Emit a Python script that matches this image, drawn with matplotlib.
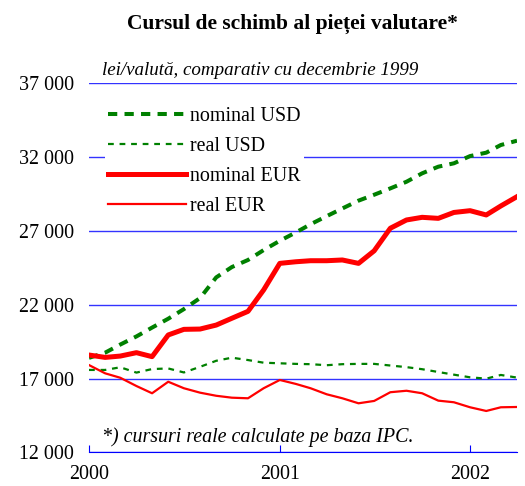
import numpy as np
import pandas as pd
import matplotlib
matplotlib.use('Agg')
import matplotlib.pyplot as plt

# Monthly data, Jan 2000 - Apr 2002 (lei per currency unit)
months = pd.date_range('2000-01-01', periods=28, freq='MS')

nominal_usd = [18400, 18750, 19300, 19850, 20450, 21050, 21700, 22450, 23850, 24550,
               25030, 25700, 26330, 26900, 27450, 28000, 28520, 29050, 29450, 29880,
               30330, 30900, 31350, 31580, 32070, 32300, 32820, 33110]
real_usd = [17580, 17580, 17760, 17400, 17640, 17680, 17410, 17790, 18200, 18410,
            18250, 18070, 18030, 17990, 17970, 17900, 17970, 17990, 17990, 17880,
            17770, 17630, 17440, 17260, 17080, 16990, 17240, 17060]
nominal_eur = [18590, 18430, 18520, 18750, 18480, 19950, 20330, 20350, 20620, 21080,
               21550, 23000, 24800, 24910, 24980, 24980, 25030, 24800, 25650, 27180,
               27740, 27920, 27850, 28250, 28370, 28080, 28690, 29320]
real_eur = [17910, 17350, 17050, 16490, 16000, 16780, 16340, 16040, 15830, 15700,
            15660, 16340, 16900, 16630, 16340, 15930, 15660, 15320, 15480, 16070,
            16170, 16000, 15500, 15390, 15050, 14800, 15050, 15070]

yticks = [12000, 17000, 22000, 27000, 32000, 37000]
ytick_labels = ['12 000', '17 000', '22 000', '27 000', '32 000', '37 000']
year_ticks = pd.to_datetime(['2000-01-01', '2001-01-01', '2002-01-01'])
year_labels = ['2000', '2001', '2002']

plt.rcParams['font.family'] = ['Liberation Serif', 'DejaVu Serif']
plt.rcParams['font.size'] = 14.4

W, H = 525, 486
fig = plt.figure(figsize=(W / 100, H / 100), dpi=100)
ax = fig.add_axes([89 / W, 1 - 452.3 / H, (517 - 89) / W, (452.3 - 83.3) / H])

ax.plot(months, nominal_usd, color='#008000', lw=2.9, linestyle=(0, (2.3, 1.8)),
        label='nominal USD')
ax.plot(months, real_usd, color='#008000', lw=1.6, linestyle=(0, (2.6, 2.6)),
        label='real USD')
ax.plot(months, nominal_eur, color='#ff0000', lw=3.6, solid_joinstyle='round',
        label='nominal EUR')
ax.plot(months, real_eur, color='#ff0000', lw=1.6, label='real EUR')

ax.set_ylim(12000, 37000)
ax.set_xlim(months[0], months[-1])
ax.set_yticks(yticks)
ax.set_yticklabels(ytick_labels)
ax.set_xticks(year_ticks)
ax.set_xticklabels(year_labels)

ax.yaxis.grid(True, color='#3333ff', lw=1)
ax.set_axisbelow(True)
for side in ['left', 'right', 'top']:
    ax.spines[side].set_visible(False)
ax.spines['bottom'].set_color('#0000ff')
ax.tick_params(axis='y', length=0, pad=11)
ax.tick_params(axis='x', direction='in', length=5, color='#0000ff', pad=9.5)

leg = ax.legend(loc='upper left', bbox_to_anchor=(105 / W, 1 - 104 / H),
                bbox_transform=fig.transFigure, borderaxespad=0, borderpad=0.15,
                handlelength=3.9, handletextpad=0.2, labelspacing=0.55,
                fontsize=14.4, fancybox=False, framealpha=1)
leg.get_frame().set_edgecolor('none')
leg.get_frame().set_facecolor('white')

fig.text(292.5 / W, 1 - 29.3 / H, 'Cursul de schimb al pieței valutare*',
         ha='center', va='baseline', fontweight='bold', fontsize=15.5)
fig.text(101.7 / W, 1 - 75 / H, 'lei/valută, comparativ cu decembrie 1999',
         ha='left', va='baseline', style='italic', fontsize=13.7)
fig.text(101.7 / W, 1 - 442 / H, '*) cursuri reale calculate pe baza IPC.',
         ha='left', va='baseline', style='italic', fontsize=14.4)

fig.savefig('out.png', dpi=100)
